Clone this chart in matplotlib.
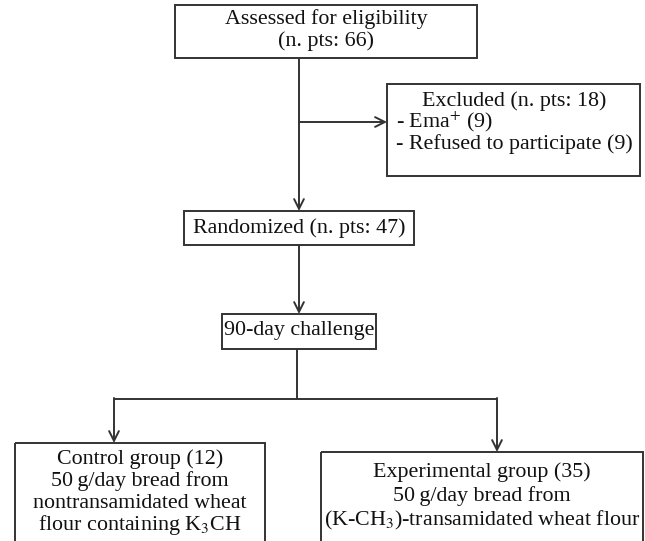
import matplotlib.pyplot as plt
from matplotlib.patches import Rectangle

plt.rcParams['font.family'] = ['Liberation Serif', 'DejaVu Serif']
plt.rcParams['mathtext.fontset'] = 'stix'

# box texts
assessed_text = ['Assessed for eligibility', '(n. pts: 66)']
excluded_title = 'Excluded (n. pts: 18)'
excluded_items = [r'- Ema$^{+}$ (9)', '- Refused to participate (9)']
randomized_text = 'Randomized (n. pts: 47)'
challenge_text = '90-day challenge'
control_text = ['Control group (12)', '50\u2009g/day bread from',
                'nontransamidated wheat', r'flour containing K$_\mathrm{3}$CH']
experimental_text = ['Experimental group (35)', '50\u2009g/day bread from',
                     r'(K-CH$_\mathrm{3}$)-transamidated wheat flour']

LC = '#333333'
LW = 1.4
FS = 15.8

fig = plt.figure(figsize=(6.45, 5.41), dpi=100)
ax = fig.add_axes([0, 0, 1, 1])
ax.set_xlim(0, 645)
ax.set_ylim(541, 0)
ax.axis('off')


def box(x0, y0, x1, y1):
    ax.add_patch(Rectangle((x0, y0), x1 - x0, y1 - y0, fill=False,
                           edgecolor=LC, linewidth=LW, clip_on=False))


def line(xs, ys):
    ax.plot(xs, ys, color=LC, linewidth=LW, solid_capstyle='butt')


def arrow(x0, y0, x1, y1):
    ax.annotate('', xy=(x1, y1), xytext=(x0, y0),
                arrowprops=dict(arrowstyle='->,head_length=0.7,head_width=0.35',
                                color=LC, linewidth=LW,
                                shrinkA=0, shrinkB=0))


def lines_text(cx, ys, texts, ha='center'):
    for y, t in zip(ys, texts):
        ax.text(cx, y, t, ha=ha, va='center', fontsize=FS, color='#111111')


# top box
box(175, 5, 477, 58)
lines_text(326, [19, 41], assessed_text)

# vertical down to randomized, branch to excluded
line([299, 299], [58, 190])
arrow(299, 190, 299, 211)
arrow(299, 122, 387, 122)

box(387, 84, 640, 176)
ax.text(514, 101, excluded_title, ha='center', va='center', fontsize=FS, color='#111111')
lines_text(396, [122, 144], excluded_items, ha='left')

# randomized
box(184, 211, 414, 245)
ax.text(299, 228, randomized_text, ha='center', va='center', fontsize=FS, color='#111111')
arrow(299, 245, 299, 314)

# challenge
box(222, 314, 376, 349)
ax.text(299, 331, challenge_text, ha='center', va='center', fontsize=FS, color='#111111')

# branch
line([297, 297], [349, 399])
line([114, 497], [399, 399])
arrow(114, 398, 114, 443)
arrow(497, 398, 497, 452)

# bottom boxes
box(15, 443, 265, 560)
lines_text(140, [459, 481, 503, 525], control_text)

box(321, 452, 643, 560)
lines_text(482, [472, 496, 520], experimental_text)

fig.savefig('out.png', dpi=100)
